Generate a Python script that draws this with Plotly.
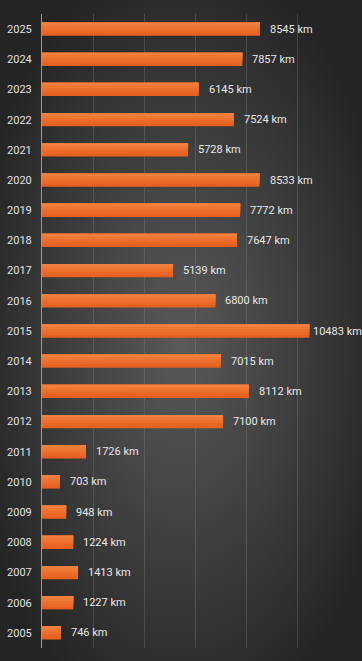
import base64
import plotly.graph_objects as go

years = [str(y) for y in range(2005, 2026)]
distances = [746, 1227, 1413, 1224, 948, 703, 1726, 7100, 8112, 7015, 10483,
             6800, 5139, 7647, 7772, 8533, 5728, 7524, 6145, 7857, 8545]
unit = "km"

W, H = 362, 661
ML, MR, MT, MB = 42, 14, 14, 13
FONT = "Roboto, Arial, sans-serif"

svg = f'''<svg xmlns="http://www.w3.org/2000/svg" width="{W}" height="{H}" viewBox="0 0 {W} {H}" preserveAspectRatio="none">
<defs><radialGradient id="g" cx="50%" cy="52%" r="60%" gradientUnits="objectBoundingBox">
<stop offset="0%" stop-color="#595959"/><stop offset="55%" stop-color="#3d3d3d"/><stop offset="100%" stop-color="#242424"/>
</radialGradient></defs>
<rect width="100%" height="100%" fill="url(#g)"/></svg>'''
bg = "data:image/svg+xml;base64," + base64.b64encode(svg.encode()).decode()

fig = go.Figure()
# bar drawn as overlapping layers (each reaching the top edge) to imitate the vertical gradient
TOP = 0.22
layers = [(-0.22, "#e6611f"), (-0.13, "#e96826"), (-0.04, "#ec6f2d"),
          (0.05, "#ef7734"), (0.14, "#f1803f")]
for off, col in layers:
    fig.add_trace(go.Bar(
        y=years, x=distances, orientation="h", width=TOP - off, offset=off,
        marker=dict(color=col, line=dict(width=0)),
        hoverinfo="skip",
    ))

annotations = []
xmax = 12000
for i, v in enumerate(distances):
    shift = 2 if v > 10000 else 8
    annotations.append(dict(
        x=v, y=i, xref="x", yref="y", text=f"{v} {unit}", showarrow=False,
        xanchor="left", xshift=shift, yshift=0,
        font=dict(family=FONT, size=11, color="#e8e8e8"),
    ))

pw = W - ML - MR
ph = H - MT - MB
fig.add_layout_image(dict(
    source=bg, xref="paper", yref="paper",
    x=-ML / pw, y=1 + MT / ph, sizex=W / pw, sizey=H / ph,
    xanchor="left", yanchor="top", sizing="stretch", layer="below",
))

fig.update_layout(
    width=W, height=H,
    margin=dict(l=ML, r=MR, t=MT, b=MB, autoexpand=False),
    paper_bgcolor="#2a2a2a", plot_bgcolor="rgba(0,0,0,0)",
    showlegend=False, barmode="overlay",
    annotations=annotations,
    xaxis=dict(range=[0, xmax], dtick=2000, showgrid=True, gridcolor="rgba(120,120,120,0.38)",
               gridwidth=1, showticklabels=False, zeroline=False, fixedrange=True,
               automargin=False),
    yaxis=dict(type="category", categoryorder="array", categoryarray=years, showgrid=False,
               showline=True, linecolor="#9a9a9a", linewidth=1, automargin=False,
               tickfont=dict(family=FONT, size=11, color="#e0e0e0"),
               ticks="", ticklabelstandoff=7, range=[-0.5, 20.5], fixedrange=True),
)

fig.write_html("out.html", config={"displayModeBar": False},
               post_script="document.body.style.margin='0';")
